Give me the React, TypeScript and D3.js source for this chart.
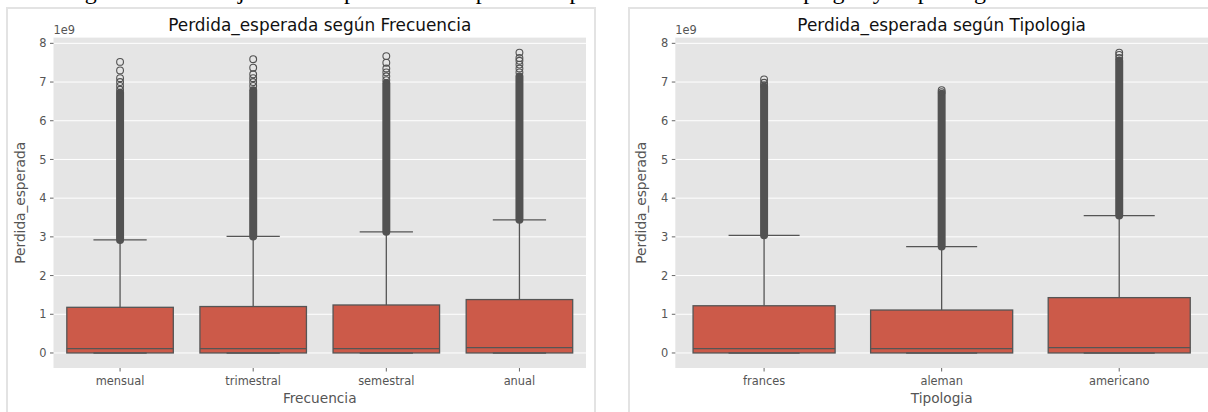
import React from 'react'
import * as d3 from 'd3'

// valores en unidades de 1e9
const yTicks = [0, 1, 2, 3, 4, 5, 6, 7, 8]

const frecuenciaCats = ['mensual', 'trimestral', 'semestral', 'anual']
const frecuenciaQ1 = [0, 0, 0, 0]
const frecuenciaMedian = [0.11, 0.11, 0.11, 0.14]
const frecuenciaQ3 = [1.18, 1.2, 1.24, 1.38]
const frecuenciaLow = [0, 0, 0, 0]
const frecuenciaHigh = [2.92, 3.01, 3.13, 3.44]
// tramo de atipicos tan denso que se ve como una columna solida
const frecuenciaDense = [[2.92, 6.72], [3.01, 6.79], [3.13, 6.97], [3.44, 7.14]]
const frecuenciaFliers = [
  [6.8, 6.9, 7.0, 7.1, 7.3, 7.52],
  [6.9, 7.0, 7.1, 7.2, 7.37, 7.59],
  [7.05, 7.15, 7.25, 7.35, 7.5, 7.67],
  [7.25, 7.35, 7.45, 7.55, 7.62, 7.76],
]

const tipologiaCats = ['frances', 'aleman', 'americano']
const tipologiaQ1 = [0, 0, 0]
const tipologiaMedian = [0.11, 0.11, 0.14]
const tipologiaQ3 = [1.22, 1.11, 1.43]
const tipologiaLow = [0, 0, 0]
const tipologiaHigh = [3.04, 2.75, 3.55]
const tipologiaDense = [[3.04, 6.88], [2.75, 6.7], [3.55, 7.55]]
const tipologiaFliers = [
  [6.92, 6.98, 7.07],
  [6.74, 6.79],
  [7.62, 7.7, 7.76],
]

const BOX_FILL = '#cc5a49'
const LINE = '#555555'
const FONT = 'DejaVu Sans'

const Panel = ({ left, right, title, xlabel, cats, q1, med, q3, lo, hi, dense, fliers }) => {
  const top = 37.6
  const bottom = 368
  const x = d3.scaleBand().domain(cats).range([left, right]).padding(0)
  const y = d3.scaleLinear().domain([-0.388, 8.148]).range([bottom, top])
  const bw = x.bandwidth() * 0.8
  const r = 3.4

  return (
    <g>
      <rect x={left} y={top} width={right - left} height={bottom - top} fill="#e5e5e5" />
      {yTicks.map(t => (
        <g key={t}>
          <line x1={left} x2={right} y1={y(t)} y2={y(t)} stroke="#fff" strokeWidth={1} />
          <line x1={left - 3.5} x2={left} y1={y(t)} y2={y(t)} stroke={LINE} strokeWidth={0.9} />
          <text x={left - 7} y={y(t)} dy="0.36em" textAnchor="end" fontSize={11.4} fill={LINE} fontFamily={FONT}>{t}</text>
        </g>
      ))}
      <text x={left} y={34} fontSize={11.4} fill={LINE} fontFamily={FONT}>1e9</text>
      <text x={(left + right) / 2} y={31} textAnchor="middle" fontSize={16.9} fill="#111" fontFamily={FONT}>{title}</text>
      <text transform={`translate(${left - 29},${(top + bottom) / 2}) rotate(-90)`} textAnchor="middle" fontSize={13.7} fill={LINE} fontFamily={FONT}>Perdida_esperada</text>
      <text x={(left + right) / 2} y={403} textAnchor="middle" fontSize={13.7} fill={LINE} fontFamily={FONT}>{xlabel}</text>
      {cats.map((c, i) => {
        const cx = x(c) + x.bandwidth() / 2
        return (
          <g key={c}>
            <line x1={cx} x2={cx} y1={bottom} y2={bottom + 3.5} stroke={LINE} strokeWidth={0.9} />
            <text x={cx} y={bottom + 7} dy="0.9em" textAnchor="middle" fontSize={11.4} fill={LINE} fontFamily={FONT}>{c}</text>
            <line x1={cx} x2={cx} y1={y(q3[i])} y2={y(hi[i])} stroke={LINE} strokeWidth={1.3} />
            <line x1={cx - bw / 4} x2={cx + bw / 4} y1={y(hi[i])} y2={y(hi[i])} stroke={LINE} strokeWidth={1.3} />
            <rect x={cx - bw / 2} y={y(q3[i])} width={bw} height={y(q1[i]) - y(q3[i])} fill={BOX_FILL} stroke={LINE} strokeWidth={1.3} />
            <line x1={cx - bw / 2} x2={cx + bw / 2} y1={y(med[i])} y2={y(med[i])} stroke={LINE} strokeWidth={1.3} />
            <line x1={cx} x2={cx} y1={y(q1[i])} y2={y(lo[i])} stroke={LINE} strokeWidth={1.3} />
            <line x1={cx - bw / 4} x2={cx + bw / 4} y1={y(lo[i])} y2={y(lo[i])} stroke={LINE} strokeWidth={1.3} />
            <rect x={cx - r - 0.6} width={2 * r + 1.2} y={y(dense[i][1]) - r - 0.6} height={y(dense[i][0]) - y(dense[i][1]) + 2 * r + 1.2} rx={r + 0.6} fill="#525252" />
            {fliers[i].map((v, j) => (
              <circle key={j} cx={cx} cy={y(v)} r={r} fill="none" stroke="#525252" strokeWidth={1.1} />
            ))}
          </g>
        )
      })}
    </g>
  )
}

export default function App() {
  return (
    <svg width={1208} height={412} style={{ position: 'absolute', left: 0, top: 0, background: '#fff' }}>
      <text x={40} y={-1} fontSize={24} fontFamily="Liberation Serif" fill="#000" textLength={970} lengthAdjust="spacing">
        Diagrama de caja de la pérdida esperada por frecuencia de pago y tipología
      </text>
      <rect x={7} y={8} width={588} height={420} fill="none" stroke="#e3e3e3" strokeWidth={2} />
      <rect x={629} y={8} width={600} height={420} fill="none" stroke="#e3e3e3" strokeWidth={2} />
      <Panel left={53.5} right={586} title="Perdida_esperada según Frecuencia" xlabel="Frecuencia"
        cats={frecuenciaCats} q1={frecuenciaQ1} med={frecuenciaMedian} q3={frecuenciaQ3}
        lo={frecuenciaLow} hi={frecuenciaHigh} dense={frecuenciaDense} fliers={frecuenciaFliers} />
      <Panel left={675.3} right={1208} title="Perdida_esperada según Tipologia" xlabel="Tipologia"
        cats={tipologiaCats} q1={tipologiaQ1} med={tipologiaMedian} q3={tipologiaQ3}
        lo={tipologiaLow} hi={tipologiaHigh} dense={tipologiaDense} fliers={tipologiaFliers} />
    </svg>
  )
}
